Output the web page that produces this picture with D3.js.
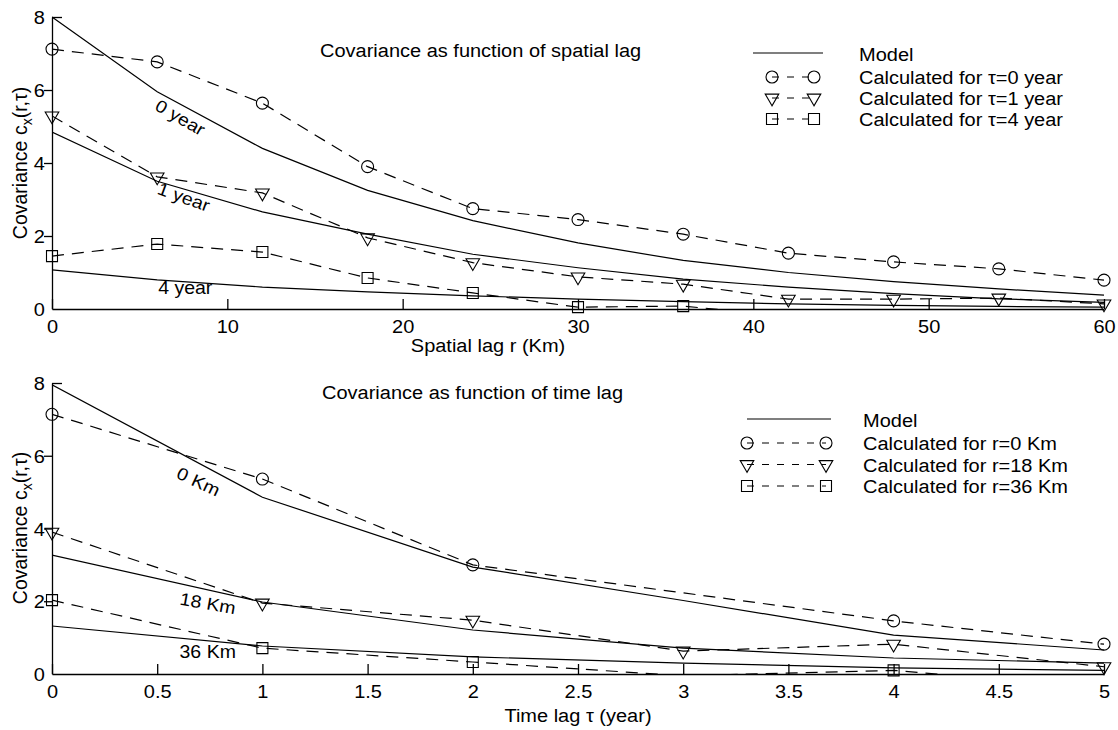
<!DOCTYPE html>
<html>
<head>
<meta charset="utf-8">
<style>
  body { margin: 0; background: #fff; }
  svg { display: block; font-family: "Liberation Sans", Arial, sans-serif; }
</style>
</head>
<body>
<svg id="chart" width="1118" height="730"></svg>
<script src="https://cdn.jsdelivr.net/npm/d3@7"></script>
<script>

// --- covariance vs spatial lag (top) ---
var spatialLag = [0, 6, 12, 18, 24, 30, 36, 42, 48, 54, 60];
var modelTau0 = [8.0, 5.95, 4.4, 3.25, 2.42, 1.81, 1.33, 1.0, 0.75, 0.55, 0.38];
var modelTau1 = [4.85, 3.5, 2.66, 2.05, 1.5, 1.13, 0.82, 0.6, 0.42, 0.28, 0.18];
var modelTau4 = [1.07, 0.8, 0.6, 0.47, 0.36, 0.27, 0.2, 0.14, 0.1, 0.07, 0.05];
var calcTau0 = [7.12, 6.77, 5.64, 3.9, 2.75, 2.45, 2.05, 1.53, 1.29, 1.1, 0.79];
var calcTau1 = [5.29, 3.62, 3.18, 1.95, 1.27, 0.88, 0.68, 0.27, 0.27, 0.3, 0.14];
var calcTau4Lag = [0, 6, 12, 18, 24, 30, 36, 42];
var calcTau4 = [1.45, 1.78, 1.56, 0.85, 0.44, 0.05, 0.08, -0.2];
var spatialTicks = [0, 10, 20, 30, 40, 50, 60];
var topLegend = ["Model", "Calculated for \u03c4=0 year", "Calculated for \u03c4=1 year", "Calculated for \u03c4=4 year"];
var topCurveNames = ["0 year", "1 year", "4 year"];

// --- covariance vs time lag (bottom) ---
var timeLag = [0, 1, 2, 3, 4, 5];
var modelR0 = [7.95, 4.86, 2.94, 2.02, 1.07, 0.66];
var modelR18 = [3.27, 1.98, 1.21, 0.71, 0.44, 0.3];
var modelR36 = [1.32, 0.77, 0.47, 0.3, 0.17, 0.1];
var calcR0Lag = [0, 1, 2, 4, 5];
var calcR0 = [7.14, 5.36, 3.0, 1.46, 0.82];
var calcR18 = [3.9, 1.95, 1.48, 0.63, 0.82, 0.2];
var calcR36 = [2.03, 0.71, 0.33, -0.05, 0.1, -0.4];
var timeTicks = [0, 0.5, 1, 1.5, 2, 2.5, 3, 3.5, 4, 4.5, 5];
var bottomLegend = ["Model", "Calculated for r=0 Km", "Calculated for r=18 Km", "Calculated for r=36 Km"];
var bottomCurveNames = ["0 Km", "18 Km", "36 Km"];

var yTicks = [0, 2, 4, 6, 8];

var svg = d3.select("#chart");
var squash = 0.88;   // text in the original is a bit flattened

var circle = d3.symbol().type(d3.symbolCircle).size(113)();
var triangle = d3.symbol().type(d3.symbolTriangle).size(80)();
var square = d3.symbol().type(d3.symbolSquare).size(121)();

function flatText(g, x, y, txt, anchor) {
  return g.append("text")
      .attr("transform", "translate(" + x + "," + y + ") scale(1," + squash + ")")
      .attr("text-anchor", anchor || "start")
      .attr("font-size", 20)
      .attr("fill", "#000")
      .text(txt);
}

function Panel(id, y0, y1, xmax, ticks) {
  var g = svg.append("g");
  var x = d3.scaleLinear().domain([0, xmax]).range([52, 1104]);
  var y = d3.scaleLinear().domain([0, 8]).range([y1, y0]);

  svg.append("clipPath").attr("id", "clip-" + id)
    .append("rect")
      .attr("x", 52).attr("y", y0 - 20)
      .attr("width", 1070).attr("height", y1 - y0 + 20);

  var xa = g.append("g")
      .attr("transform", "translate(0," + y1 + ")")
      .call(d3.axisBottom(x).tickValues(ticks).tickSizeInner(-10).tickSizeOuter(0).tickFormat(function(d) { return d; }));
  xa.selectAll("text")
      .attr("y", null).attr("dy", null)
      .attr("transform", "translate(0,24) scale(1," + squash + ")");

  var ya = g.append("g")
      .attr("transform", "translate(52,0)")
      .call(d3.axisLeft(y).tickValues(yTicks).tickSizeInner(8).tickSizeOuter(0));
  ya.selectAll(".tick line")
      .attr("x2", function(d) { return d == 8 ? 10 : (d == 0 ? 0 : -8); });
  ya.selectAll("text")
      .attr("x", null).attr("dy", null)
      .attr("transform", "translate(-7,6.5) scale(1," + squash + ")");

  [xa, ya].forEach(function(a) {
    a.attr("font-size", 20).attr("font-family", null).attr("color", "#000");
    a.selectAll("text").attr("font-size", 20);
    a.selectAll("path, line").attr("stroke-width", 1.3);
  });

  var lines = g.append("g").attr("clip-path", "url(#clip-" + id + ")");
  var marks = g.append("g");

  return {
    x: x, y: y, g: g,
    series: function(xs, ys, dashed, sym, flip) {
      var pts = xs.map(function(d, i) { return [d, ys[i]]; });
      var line = d3.line()
          .x(function(d) { return x(d[0]); })
          .y(function(d) { return y(d[1]); });
      lines.append("path")
          .datum(pts)
          .attr("fill", "none")
          .attr("stroke", "#000")
          .attr("stroke-width", 1.2)
          .attr("stroke-dasharray", dashed ? "12,8" : null)
          .attr("d", line);
      if (sym) {
        marks.selectAll(null)
            .data(pts.filter(function(d) { return d[1] >= 0; }))
          .enter().append("path")
            .attr("d", sym)
            .attr("transform", function(d) {
              return "translate(" + x(d[0]) + "," + y(d[1]) + ")" + (flip ? " rotate(180)" : "");
            })
            .attr("fill", "none")
            .attr("stroke", "#000")
            .attr("stroke-width", 1.1);
      }
    }
  };
}

function yTitle(cy) {
  var t = svg.append("text")
      .attr("transform", "translate(27," + cy + ") rotate(-90)")
      .attr("text-anchor", "middle")
      .attr("font-size", 19.5)
      .attr("fill", "#000");
  t.append("tspan").text("Covariance c");
  t.append("tspan").attr("font-size", 14).attr("dy", 5).text("x");
  t.append("tspan").attr("dy", -5).text("(r,\u03c4)");
}

function curveLabel(p, xv, yv, txt, angle) {
  p.g.append("text")
      .attr("transform", "translate(" + p.x(xv) + "," + p.y(yv) + ") rotate(" + angle + ") scale(1,0.9)")
      .attr("text-anchor", "middle")
      .attr("dy", 6)
      .attr("font-size", 19.5)
      .attr("fill", "#000")
      .text(txt);
}

function legend(g, x0, x1, m0, m1, lineY, textX, gap, labels) {
  var syms = [circle, triangle, square];
  g.append("line")
      .attr("x1", x0).attr("x2", x1).attr("y1", lineY).attr("y2", lineY)
      .attr("stroke", "#000").attr("stroke-width", 1.2);
  flatText(g, textX, lineY + 8, labels[0]);
  syms.forEach(function(s, i) {
    var yy = lineY + 24 + i * gap;
    g.append("line")
        .attr("x1", m0).attr("x2", m1).attr("y1", yy).attr("y2", yy)
        .attr("stroke", "#000").attr("stroke-width", 1.2)
        .attr("stroke-dasharray", "7,8");
    [m0, m1].forEach(function(mx) {
      g.append("path")
          .attr("d", s)
          .attr("transform", "translate(" + mx + "," + yy + ")" + (i == 1 ? " rotate(180)" : ""))
          .attr("fill", "none").attr("stroke", "#000").attr("stroke-width", 1.1);
    });
    flatText(g, textX, yy + 7, labels[i + 1]);
  });
}

// top panel
var spacePanel = Panel("space", 17, 309, 60, spatialTicks);
spacePanel.series(spatialLag, modelTau0, false);
spacePanel.series(spatialLag, modelTau1, false);
spacePanel.series(spatialLag, modelTau4, false);
spacePanel.series(spatialLag, calcTau0, true, circle);
spacePanel.series(spatialLag, calcTau1, true, triangle, true);
spacePanel.series(calcTau4Lag, calcTau4, true, square);
flatText(spacePanel.g, 320, 57, "Covariance as function of spatial lag");
legend(spacePanel.g, 753, 823, 772, 814, 53, 859, 21, topLegend);
curveLabel(spacePanel, 7.3, 5.23, topCurveNames[0], 30);
curveLabel(spacePanel, 7.5, 3.05, topCurveNames[1], 20);
curveLabel(spacePanel, 7.6, 0.55, topCurveNames[2], 0);
flatText(spacePanel.g, 488, 352, "Spatial lag r (Km)", "middle");
yTitle(163);

// bottom panel
var timePanel = Panel("time", 383, 674, 5, timeTicks);
timePanel.series(timeLag, modelR0, false);
timePanel.series(timeLag, modelR18, false);
timePanel.series(timeLag, modelR36, false);
timePanel.series(calcR0Lag, calcR0, true, circle);
timePanel.series(timeLag, calcR18, true, triangle, true);
timePanel.series(timeLag, calcR36, true, square);
flatText(timePanel.g, 322, 399, "Covariance as function of time lag");
legend(timePanel.g, 747, 831, 747, 826, 419, 863, 21.5, bottomLegend);
curveLabel(timePanel, 0.695, 5.27, bottomCurveNames[0], 25);
curveLabel(timePanel, 0.74, 1.92, bottomCurveNames[1], 10);
curveLabel(timePanel, 0.74, 0.6, bottomCurveNames[2], 0);
flatText(timePanel.g, 578, 722, "Time lag \u03c4 (year)", "middle");
yTitle(528);

</script>
</body>
</html>
